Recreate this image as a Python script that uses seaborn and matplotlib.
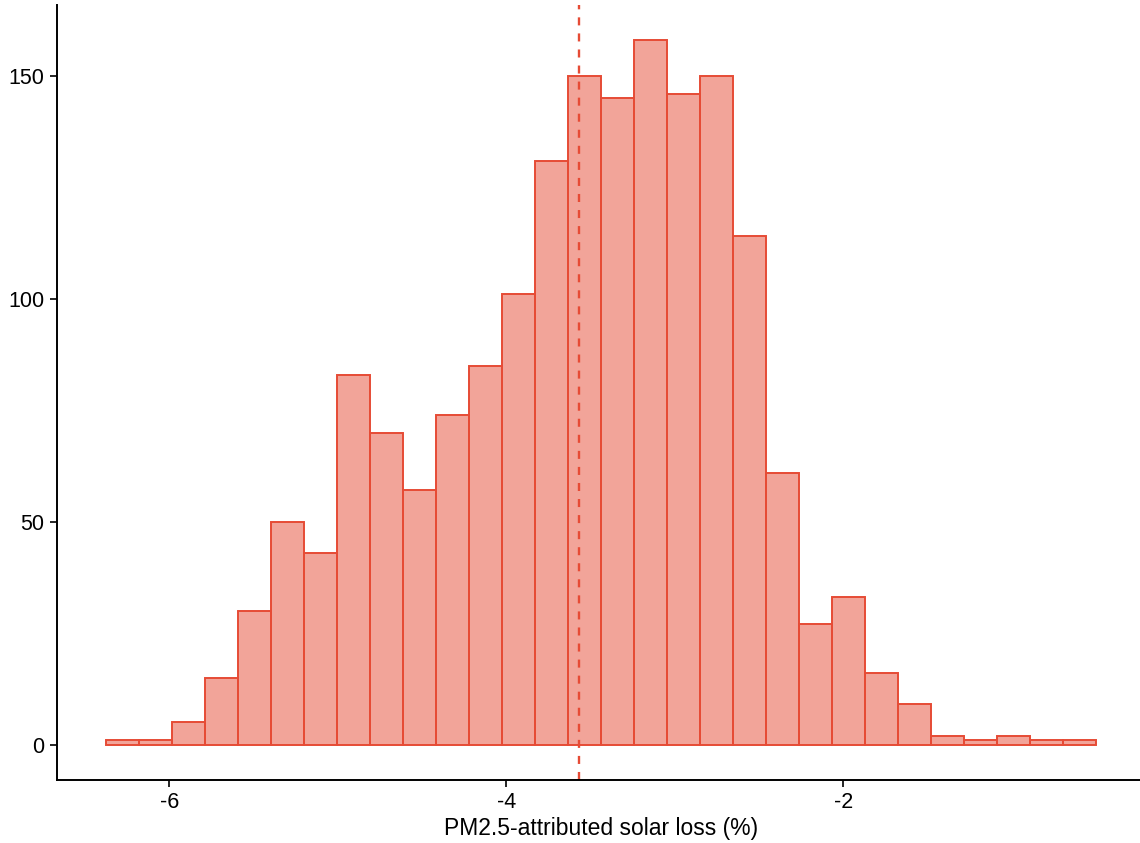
import numpy as np
import pandas as pd
import matplotlib
matplotlib.use("Agg")
import matplotlib.pyplot as plt
import seaborn as sns

# Histogram of PM2.5-attributed solar loss: 30 equal-width bins
bin_start = -6.374
bin_end = -0.498
counts = [1, 1, 5, 15, 30, 50, 43, 83, 70, 57,
          74, 85, 101, 131, 150, 145, 158, 146, 150, 114,
          61, 27, 33, 16, 9, 2, 1, 2, 1, 1]
mean_loss = -3.567
x_ticks = [-6, -4, -2]
y_ticks = [0, 50, 100, 150]

edges = np.linspace(bin_start, bin_end, len(counts) + 1)
centers = (edges[:-1] + edges[1:]) / 2
df = pd.DataFrame({"loss": centers, "n": counts})

sns.set_theme(style="ticks")
plt.rcParams["font.family"] = ["Liberation Sans", "DejaVu Sans"]

red = "#E64B35"
fig = plt.figure(figsize=(11.4, 8.43), dpi=100)
ax = fig.add_axes([0.05, 0.075, 0.955, 0.919])

sns.histplot(data=df, x="loss", weights="n", bins=len(counts),
             binrange=(bin_start, bin_end), ax=ax,
             color=red, alpha=0.5, edgecolor=red, linewidth=1.4)
# opaque outlines over a translucent fill
for p in ax.patches:
    p.set_facecolor((*matplotlib.colors.to_rgb(red), 0.5))
    p.set_edgecolor(red)

ax.axvline(mean_loss, color=red, linestyle=(0, (3.4, 3.4)), linewidth=1.7)

span = bin_end - bin_start
ax.set_xlim(bin_start - 0.05 * span, bin_end + 0.05 * span)
ymax = max(counts)
ax.set_ylim(-0.05 * ymax, ymax * 1.05)
ax.set_xticks(x_ticks)
ax.set_xticklabels([str(t) for t in x_ticks])
ax.set_yticks(y_ticks)
ax.set_xlabel("PM2.5-attributed solar loss (%)", fontsize=16.5, color="black", labelpad=3)
ax.set_ylabel("")
ax.tick_params(axis="both", labelsize=15.5, colors="black", length=5, width=1.2, pad=4)
for s in ["top", "right"]:
    ax.spines[s].set_visible(False)
for s in ["left", "bottom"]:
    ax.spines[s].set_color("black")
    ax.spines[s].set_linewidth(1.4)

fig.savefig("out.png", dpi=100)
